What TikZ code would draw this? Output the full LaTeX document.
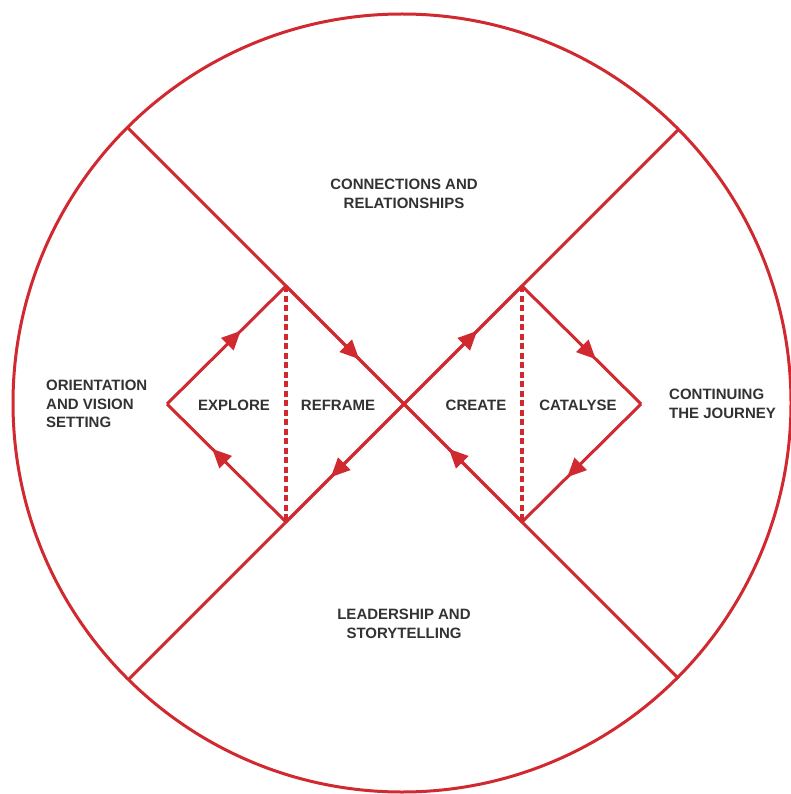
\documentclass[tikz,border=0pt]{standalone}
\usepackage{fontspec}
\setmainfont{Liberation Sans}
\usetikzlibrary{arrows.meta,decorations.markings}
\definecolor{cred}{RGB}{208,42,48}
\definecolor{ctext}{RGB}{50,50,50}
\begin{document}
\begin{tikzpicture}[x=1pt,y=-1pt,
  redline/.style={draw=cred,line width=3pt},
  flow/.style={redline,postaction={decorate},
    decoration={markings,mark=at position 0.62 with {\arrow[cred]{Triangle[length=19pt,width=17pt]}}}},
  dashline/.style={draw=cred,line width=3.6pt,dash pattern=on 6pt off 3.5pt},
  lbl/.style={text=ctext,font=\bfseries\fontsize{15}{18.5}\selectfont,align=center,inner sep=0pt},
  lbll/.style={lbl,align=left}]
\useasboundingbox (0,0) rectangle (791,794);
% circle
\coordinate (O) at (402,403);
\draw[redline] (O) circle (389);
% crossing lines (end points on the circle)
\coordinate (X) at (404,404);
\coordinate (UL) at (127.4,127.4);
\coordinate (LR) at (677.6,677.6);
\coordinate (UR) at (678.6,129.4);
\coordinate (LL) at (128.4,679.6);
\draw[redline] (UL) -- (LR);
\draw[redline] (UR) -- (LL);
% left diamond
\coordinate (EL) at (167,404);
\coordinate (ET) at (286,286);
\coordinate (EB) at (286,522);
\draw[flow] (EL) -- (ET);
\draw[flow] (ET) -- (X);
\draw[flow] (X) -- (EB);
\draw[flow] (EB) -- (EL);
\draw[dashline] (ET) -- (EB);
% right diamond
\coordinate (CR) at (641,404);
\coordinate (CT) at (522,286);
\coordinate (CB) at (522,522);
\draw[flow] (X) -- (CT);
\draw[flow] (CT) -- (CR);
\draw[flow] (CR) -- (CB);
\draw[flow] (CB) -- (X);
\draw[dashline] (CT) -- (CB);
% labels
\node[lbl] (conn) at (404,194) {CONNECTIONS AND\\RELATIONSHIPS};
\node[lbl] (lead) at (404,624) {LEADERSHIP AND\\STORYTELLING};
\node[lbll,anchor=west] (orient) at (46,404) {ORIENTATION\\AND VISION\\SETTING};
\node[lbll,anchor=west] (cont) at (669,404) {CONTINUING\\THE JOURNEY};
\node[lbl] (explore) at (234,405) {EXPLORE};
\node[lbl] (reframe) at (338,405) {REFRAME};
\node[lbl] (create) at (476,405) {CREATE};
\node[lbl] (catalyse) at (578,405) {CATALYSE};
\end{tikzpicture}
\end{document}
